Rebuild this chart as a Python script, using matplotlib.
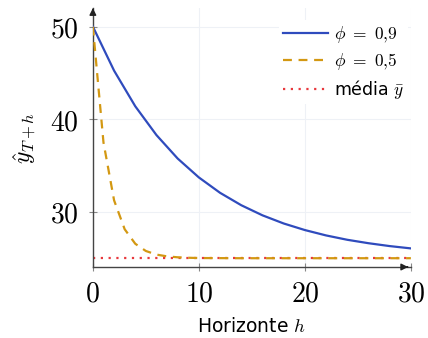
import matplotlib
matplotlib.use("Agg")
import matplotlib.pyplot as plt

# previsões AR(1) com média 25 e último valor 50
h_09 = [0, 2, 4, 6, 8, 10, 12, 14, 16, 18, 20, 22, 24, 26, 28, 30]
y_09 = [50.0, 45.25, 41.40, 38.29, 35.76, 33.72, 32.06, 30.72, 29.63, 28.75,
        28.04, 27.46, 26.99, 26.62, 26.31, 26.06]

h_05 = [0, 1, 2, 3, 4, 5, 6, 7, 8, 9, 10, 12, 14, 16, 18, 20, 22, 24, 26, 28, 30]
y_05 = [50.0, 37.5, 31.25, 28.13, 26.56, 25.78, 25.39, 25.20, 25.10, 25.05,
        25.02, 25.01, 25.0, 25.0, 25.0, 25.0, 25.0, 25.0, 25.0, 25.0, 25.0]

media = 25
xticks = [0, 10, 20, 30]
yticks = [30, 40, 50]

plt.rcParams['mathtext.fontset'] = 'cm'

fig = plt.figure(figsize=(4.28, 3.38), dpi=100)
ax = fig.add_axes([0.217, 0.21, 0.743, 0.766])

ax.plot(h_09, y_09, color='#2f4bbd', lw=1.6, label=r'$\phi\ =\ 0{,}9$', zorder=3)
ax.plot(h_05, y_05, color='#d39812', lw=1.6, ls=(0, (4, 3)), label=r'$\phi\ =\ 0{,}5$', zorder=3)
ax.axhline(media, color='#e8383d', lw=1.6, ls=(0, (1, 2.5)), label=r'média $\bar{y}$', zorder=2)

ax.set_xlim(0, 30)
ax.set_ylim(24.05, 52)
ax.set_xticks(xticks)
ax.set_yticks(yticks)
ax.set_xticklabels([r'$%d$' % v for v in xticks], fontsize=20)
ax.set_yticklabels([r'$%d$' % v for v in yticks], fontsize=20)
ax.tick_params(direction='inout', length=6, color='#888888', width=0.8)
ax.tick_params(axis='x', pad=6)
ax.tick_params(axis='y', pad=7)

ax.grid(True, color='#eef1f6', lw=0.8, zorder=0)
for s in ['top', 'right']:
    ax.spines[s].set_visible(False)
for s in ['left', 'bottom']:
    ax.spines[s].set_color('#444444')
    ax.spines[s].set_linewidth(1.0)

# flechas nos eixos
ax.annotate('', xy=(1.0, 0), xytext=(0.98, 0), xycoords='axes fraction',
            arrowprops=dict(arrowstyle='-|>', color='#222222', lw=1.0, mutation_scale=10))
ax.annotate('', xy=(0, 1.0), xytext=(0, 0.98), xycoords='axes fraction',
            arrowprops=dict(arrowstyle='-|>', color='#222222', lw=1.0, mutation_scale=10))

ax.set_xlabel(r'Horizonte $h$', fontsize=13.5, labelpad=7)
ax.set_ylabel(r'$\hat{y}_{T+h}$', fontsize=17, labelpad=8)

leg = ax.legend(loc='upper right', fontsize=12.5, frameon=True, framealpha=1,
                edgecolor='none', handlelength=2.6, handletextpad=0.35,
                labelspacing=0.35, borderaxespad=0.1, borderpad=0.2,
                bbox_to_anchor=(0.995, 0.96))

fig.savefig('out.png', dpi=100)
